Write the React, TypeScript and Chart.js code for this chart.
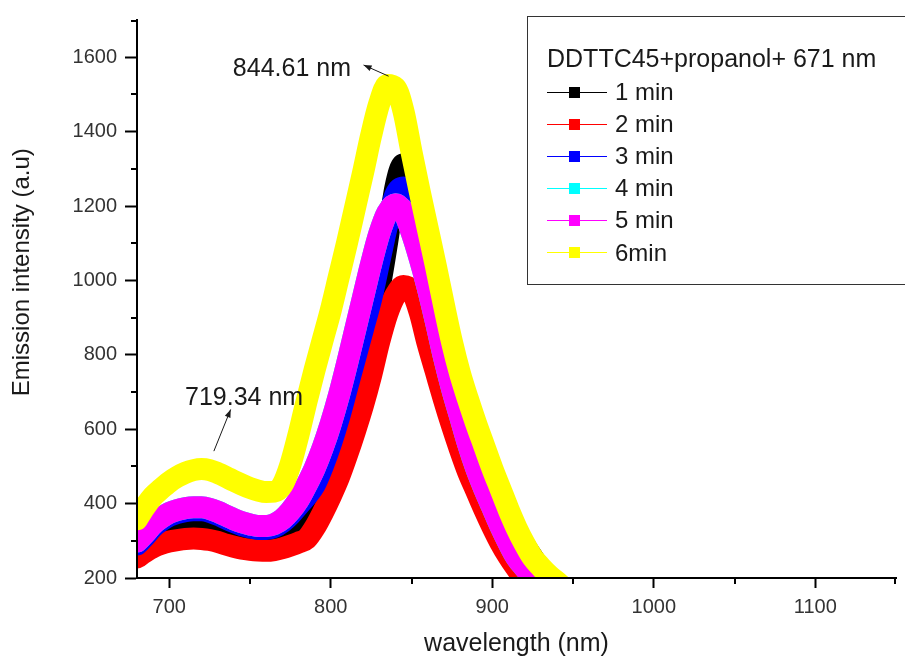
import React, { useEffect, useRef } from 'react';
import { Chart, registerables } from 'chart.js';

Chart.register(...registerables);

// ---------- data ----------
const wavelengths = [
  680, 685, 690, 695, 700, 705, 710, 715, 720, 725, 730, 735, 740, 745, 750, 755, 760, 765, 770, 775,
  780, 785, 790, 795, 800, 805, 810, 815, 820, 825, 830, 835, 840, 845, 850, 855, 860, 865, 870, 875,
  880, 885, 890, 895, 900, 905, 910, 915, 920, 925, 930, 935, 940, 945, 950,
];

const min1 = [
  272, 292, 310, 325, 335, 342, 347, 350, 352, 350, 345, 338, 331, 325, 320, 316, 315, 318, 326, 340,
  360, 390, 430, 475, 525, 585, 655, 725, 795, 875, 975, 1105, 1250, 1312, 1250, 1160, 1060, 960, 870, 790,
  715, 645, 585, 530, 475, 420, 370, 325, 288, 255, 225, 203, 186, 172, 162,
];

const min2 = [
  255, 270, 283, 292, 298, 302, 305, 306, 305, 302, 297, 290, 284, 279, 276, 274, 273, 275, 280, 287,
  295, 305, 335, 375, 420, 470, 530, 595, 665, 745, 835, 910, 960, 985, 972, 915, 830, 755, 680, 610,
  545, 485, 435, 385, 338, 295, 258, 226, 198, 176, 160, 150, 142, 136, 131,
];

const min3 = [
  290, 312, 337, 354, 367, 375, 380, 382, 382, 378, 370, 360, 350, 342, 336, 332, 332, 337, 350, 370,
  395, 420, 450, 500, 560, 630, 710, 790, 870, 950, 1050, 1150, 1230, 1250, 1200, 1110, 1020, 930, 845, 770,
  695, 625, 565, 510, 455, 400, 350, 305, 268, 238, 215, 195, 180, 168, 160,
];

const min4 = [
  298, 320, 345, 362, 375, 383, 388, 390, 390, 386, 378, 368, 358, 350, 344, 340, 340, 345, 358, 380,
  410, 450, 495, 550, 615, 690, 775, 865, 955, 1045, 1125, 1182, 1205, 1185, 1130, 1060, 980, 890, 795, 710,
  635, 560, 495, 440, 390, 340, 295, 255, 228, 203, 182, 166, 155, 147, 140,
];

const min5 = [
  298, 320, 345, 362, 375, 383, 388, 390, 390, 386, 378, 368, 358, 350, 344, 340, 340, 345, 358, 380,
  410, 450, 495, 550, 615, 690, 775, 865, 955, 1045, 1125, 1182, 1205, 1185, 1130, 1060, 980, 890, 795, 710,
  635, 560, 495, 440, 390, 340, 295, 255, 228, 203, 182, 166, 155, 147, 140,
];

const min6 = [
  358, 392, 420, 440, 458, 472, 483, 490, 493, 490, 482, 472, 461, 451, 442, 435, 431, 432, 450, 505,
  585, 675, 760, 840, 920, 1010, 1100, 1195, 1290, 1390, 1475, 1525, 1518, 1455, 1345, 1240, 1140, 1040, 935, 835,
  750, 680, 615, 555, 495, 440, 385, 335, 292, 255, 230, 208, 190, 172, 158,
];

const seriesValues = [min1, min2, min3, min4, min5, min6];
const seriesLabels = ['1 min', '2 min', '3 min', '4 min', '5 min', '6min'];
const seriesColors = ['#000000', '#ff0000', '#0000ff', '#00ffff', '#ff00ff', '#ffff00'];
const legendTitle = 'DDTTC45+propanol+ 671 nm';

const xTitle = 'wavelength (nm)';
const yTitle = 'Emission intensity (a.u)';

const xRange = [680, 1150];
const yRange = [200, 1700];
const xMajorStep = 100;
const yMajorStep = 200;

const peakNotes = [
  { text: '844.61 nm', tx: 812.5, ty: 1550, align: 'right', from: [835.8, 1549], to: [820.3, 1579] },
  { text: '719.34 nm', tx: 746.3, ty: 666, align: 'center', from: [727.6, 541], to: [738, 653] },
];

// ---------- styles ----------
const FONT = "'Liberation Sans', Arial, Helvetica, sans-serif";

function drawArrow(ctx: CanvasRenderingContext2D, x1: number, y1: number, x2: number, y2: number) {
  ctx.beginPath();
  ctx.moveTo(x1, y1);
  ctx.lineTo(x2, y2);
  ctx.stroke();
  const a = Math.atan2(y2 - y1, x2 - x1);
  const L = 8;
  const W = 3;
  ctx.beginPath();
  ctx.moveTo(x2, y2);
  ctx.lineTo(x2 - L * Math.cos(a) + W * Math.sin(a), y2 - L * Math.sin(a) - W * Math.cos(a));
  ctx.lineTo(x2 - L * Math.cos(a) - W * Math.sin(a), y2 - L * Math.sin(a) + W * Math.cos(a));
  ctx.closePath();
  ctx.fill();
}

const minorTicksPlugin = {
  id: 'minorTicks',
  afterDraw(chart: any) {
    const { ctx } = chart;
    const x = chart.scales.x;
    const y = chart.scales.y;
    ctx.save();
    ctx.strokeStyle = '#000';
    ctx.lineWidth = 2;
    const xs = xMajorStep / 2;
    for (let v = Math.ceil(x.min / xs) * xs; v <= x.max + 1e-6; v += xs) {
      if (Math.abs(v % xMajorStep) < 1e-6) continue;
      const px = Math.round(x.getPixelForValue(v)) - (v >= x.max ? 1 : 0);
      ctx.beginPath();
      ctx.moveTo(px, x.top);
      ctx.lineTo(px, x.top + 6);
      ctx.stroke();
    }
    const ys = yMajorStep / 2;
    for (let v = Math.ceil(y.min / ys) * ys; v <= y.max + 1e-6; v += ys) {
      if (Math.abs(v % yMajorStep) < 1e-6) continue;
      const py = Math.round(y.getPixelForValue(v)) + (v >= y.max ? 1 : 0);
      ctx.beginPath();
      ctx.moveTo(y.right - 6, py);
      ctx.lineTo(y.right, py);
      ctx.stroke();
    }
    ctx.restore();
  },
};

const yTitlePlugin = {
  id: 'yTitle',
  afterDraw(chart: any) {
    const { ctx, chartArea } = chart;
    ctx.save();
    const cy = chartArea.top + (chartArea.bottom - chartArea.top) * 0.452;
    ctx.translate(29, cy);
    ctx.rotate(-Math.PI / 2);
    ctx.fillStyle = '#1a1a1a';
    ctx.font = `24px ${FONT}`;
    ctx.textAlign = 'center';
    ctx.textBaseline = 'alphabetic';
    ctx.fillText(yTitle, 0, 0);
    ctx.restore();
  },
};

const notesPlugin = {
  id: 'peakNotes',
  afterDatasetsDraw(chart: any) {
    const { ctx } = chart;
    const x = chart.scales.x;
    const y = chart.scales.y;
    ctx.save();
    ctx.fillStyle = '#1a1a1a';
    ctx.strokeStyle = '#1a1a1a';
    ctx.lineWidth = 1;
    ctx.font = `25px ${FONT}`;
    ctx.textBaseline = 'alphabetic';
    peakNotes.forEach((n) => {
      ctx.textAlign = n.align as CanvasTextAlign;
      ctx.fillText(n.text, x.getPixelForValue(n.tx), y.getPixelForValue(n.ty));
      drawArrow(
        ctx,
        x.getPixelForValue(n.from[0]),
        y.getPixelForValue(n.from[1]),
        x.getPixelForValue(n.to[0]),
        y.getPixelForValue(n.to[1])
      );
    });
    ctx.restore();
  },
};

const legendBoxPlugin = {
  id: 'legendBox',
  afterDraw(chart: any) {
    const { ctx } = chart;
    const left = 527;
    const top = 16;
    const bottom = 284;
    ctx.save();
    ctx.fillStyle = '#ffffff';
    ctx.fillRect(left, top, 500, bottom - top);
    ctx.strokeStyle = '#333';
    ctx.lineWidth = 1;
    ctx.strokeRect(left + 0.5, top + 0.5, 500, bottom - top);
    ctx.fillStyle = '#1a1a1a';
    ctx.font = `25px ${FONT}`;
    ctx.textAlign = 'left';
    ctx.textBaseline = 'alphabetic';
    ctx.fillText(legendTitle, 547, 67);
    chart.data.datasets.forEach((ds: any, i: number) => {
      const cy = 91.5 + i * 32.1;
      ctx.strokeStyle = ds.borderColor;
      ctx.lineWidth = 1.2;
      ctx.beginPath();
      ctx.moveTo(547, Math.round(cy) + 0.5);
      ctx.lineTo(607, Math.round(cy) + 0.5);
      ctx.stroke();
      ctx.fillStyle = ds.borderColor;
      ctx.fillRect(569, Math.round(cy) - 5, 11, 11);
      ctx.fillStyle = '#1a1a1a';
      ctx.font = `24px ${FONT}`;
      ctx.fillText(ds.label, 615, cy + 8.5);
    });
    ctx.restore();
  },
};

export default function App() {
  const canvasRef = useRef<HTMLCanvasElement | null>(null);

  useEffect(() => {
    if (!canvasRef.current) return;
    const datasets = seriesValues.map((vals, i) => ({
      label: seriesLabels[i],
      data: wavelengths.map((w, j) => ({ x: w, y: vals[j] })),
      borderColor: seriesColors[i],
      backgroundColor: seriesColors[i],
      borderWidth: 22,
      pointRadius: 0,
      pointHoverRadius: 0,
      fill: false,
      cubicInterpolationMode: 'monotone' as const,
      borderJoinStyle: 'round' as const,
      borderCapStyle: 'round' as const,
      order: seriesValues.length - 1 - i,
    }));

    const chart = new Chart(canvasRef.current, {
      type: 'line',
      data: { datasets },
      options: {
        responsive: false,
        animation: false,
        events: [],
        layout: { padding: { top: 15, right: 9, left: 0, bottom: 0 } },
        plugins: {
          legend: { display: false },
          tooltip: { enabled: false },
          title: { display: false },
        },
        scales: {
          x: {
            type: 'linear',
            min: xRange[0],
            max: xRange[1],
            afterFit: (s: any) => {
              s.height = 81;
            },
            ticks: {
              stepSize: xMajorStep,
              includeBounds: false,
              autoSkip: false,
              maxRotation: 0,
              padding: 7,
              color: '#333',
              font: { family: FONT, size: 20 },
              callback: (v: any) => String(v),
            },
            grid: {
              drawOnChartArea: false,
              drawTicks: true,
              tickLength: 10,
              tickWidth: 2,
              tickColor: '#000',
            },
            border: { display: true, color: '#000', width: 2, z: 1 },
            title: {
              display: true,
              text: xTitle,
              color: '#1a1a1a',
              font: { family: FONT, size: 25 },
              padding: { top: 0, bottom: 0 },
            },
          },
          y: {
            type: 'linear',
            min: yRange[0],
            max: yRange[1],
            afterFit: (s: any) => {
              s.width = 137;
            },
            ticks: {
              stepSize: yMajorStep,
              includeBounds: false,
              padding: 8,
              color: '#333',
              font: { family: FONT, size: 20 },
              callback: (v: any) => String(v),
            },
            grid: {
              drawOnChartArea: false,
              drawTicks: true,
              tickLength: 12,
              tickWidth: 2,
              tickColor: '#000',
            },
            border: { display: true, color: '#000', width: 2, z: 1 },
            title: { display: false },
          },
        },
      },
      plugins: [minorTicksPlugin, notesPlugin, yTitlePlugin, legendBoxPlugin],
    });

    return () => {
      chart.destroy();
    };
  }, []);

  return (
    <div style={{ position: 'absolute', left: 0, top: 0, width: 905, height: 659, background: '#fff' }}>
      <canvas ref={canvasRef} width={905} height={659} style={{ display: 'block' }} />
    </div>
  );
}
